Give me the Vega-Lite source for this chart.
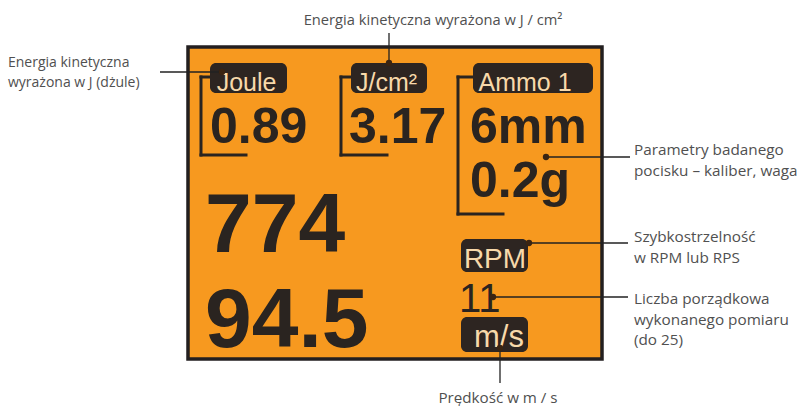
{
  "$schema": "https://vega.github.io/schema/vega-lite/v6.json",
  "width": 801,
  "height": 406,
  "autosize": {"type": "none"},
  "padding": 0,
  "background": "white",
  "config": {"view": {"stroke": null}},
  "datasets": {
    "panel": [{"x": 188, "x2": 602, "y": 47, "y2": 359}],
    "tags": [
      {"name": "Joule", "x": 210, "x2": 287, "y": 63, "y2": 93},
      {"name": "J/cm2", "x": 351, "x2": 427, "y": 63, "y2": 93},
      {"name": "Ammo 1", "x": 473, "x2": 593, "y": 63, "y2": 93},
      {"name": "RPM", "x": 461, "x2": 528, "y": 239, "y2": 272},
      {"name": "m/s", "x": 461, "x2": 528, "y": 317, "y2": 352}
    ],
    "brackets": [
      {"x": 201, "y": 77, "x2": 201, "y2": 155},
      {"x": 201, "y": 77, "x2": 210, "y2": 77},
      {"x": 201, "y": 155, "x2": 246, "y2": 155},
      {"x": 341, "y": 77, "x2": 341, "y2": 155},
      {"x": 341, "y": 77, "x2": 351, "y2": 77},
      {"x": 341, "y": 155, "x2": 387, "y2": 155},
      {"x": 458, "y": 77, "x2": 458, "y2": 214},
      {"x": 458, "y": 77, "x2": 473, "y2": 77},
      {"x": 458, "y": 214, "x2": 503, "y2": 214}
    ],
    "leaders": [
      {"x": 160, "y": 72, "x2": 222, "y2": 72},
      {"x": 389, "y": 33, "x2": 389, "y2": 63},
      {"x": 546, "y": 157, "x2": 630, "y2": 157},
      {"x": 529, "y": 243, "x2": 628, "y2": 243},
      {"x": 493, "y": 297, "x2": 628, "y2": 297},
      {"x": 500, "y": 348, "x2": 500, "y2": 383}
    ],
    "dots": [
      {"x": 222, "y": 72},
      {"x": 389, "y": 63},
      {"x": 546, "y": 157},
      {"x": 529, "y": 243},
      {"x": 493, "y": 297},
      {"x": 500, "y": 348}
    ],
    "tagTextWide": [
      {"x": 246.5, "y": 91, "text": "Joule"},
      {"x": 386.5, "y": 91, "text": "J/cm²"},
      {"x": 525, "y": 91, "text": "Ammo 1"}
    ],
    "tagTextRPM": [
      {"x": 495, "y": 268, "text": "RPM"}
    ],
    "tagTextMS": [
      {"x": 499, "y": 347, "text": "m/s"}
    ],
    "smallValues": [
      {"x": 210, "y": 143, "text": "0.89"},
      {"x": 349, "y": 143, "text": "3.17"},
      {"x": 470, "y": 143, "text": "6mm"},
      {"x": 470, "y": 197, "text": "0.2g"}
    ],
    "bigValues": [
      {"x": 205, "y": 252, "text": "774"},
      {"x": 205, "y": 347, "text": "94.5"}
    ],
    "counter": [{"x": 459, "y": 312, "text": "11"}],
    "notesLeft": [
      {"x": 8, "y": 67, "text": "Energia kinetyczna\nwyrażona w J (dżule)"}
    ],
    "notesRight": [
      {"x": 634, "y": 155, "text": "Parametry badanego\npocisku – kaliber, waga"},
      {"x": 634, "y": 242, "text": "Szybkostrzelność\nw RPM lub RPS"},
      {"x": 634, "y": 304, "text": "Liczba porządkowa\nwykonanego pomiaru\n(do 25)"}
    ],
    "notesTop": [
      {"x": 433, "y": 25, "text": "Energia kinetyczna wyrażona w J / cm²"}
    ],
    "notesBottom": [
      {"x": 498, "y": 403, "text": "Prędkość w m / s"}
    ]
  },
  "encoding": {
    "x": {"field": "x", "type": "quantitative", "scale": {"domain": [0, 801], "nice": false, "zero": false}, "axis": null},
    "y": {"field": "y", "type": "quantitative", "scale": {"domain": [0, 406], "reverse": true, "nice": false, "zero": false}, "axis": null}
  },
  "layer": [
    {
      "data": {"name": "panel"},
      "mark": {"type": "rect", "fill": "#F7991F", "stroke": "#231F20", "strokeWidth": 3.5},
      "encoding": {"x2": {"field": "x2"}, "y2": {"field": "y2"}}
    },
    {
      "data": {"name": "brackets"},
      "mark": {"type": "rule", "color": "#2A2420", "strokeWidth": 3, "strokeCap": "square"},
      "encoding": {"x2": {"field": "x2"}, "y2": {"field": "y2"}}
    },
    {
      "data": {"name": "tags"},
      "mark": {"type": "rect", "fill": "#2D2521", "cornerRadius": 6},
      "encoding": {"x2": {"field": "x2"}, "y2": {"field": "y2"}}
    },
    {
      "data": {"name": "tagTextWide"},
      "mark": {"type": "text", "font": "Liberation Sans", "fontSize": 25, "color": "#F8D9AA", "align": "center", "baseline": "alphabetic"},
      "encoding": {"text": {"field": "text"}}
    },
    {
      "data": {"name": "tagTextRPM"},
      "mark": {"type": "text", "font": "Liberation Sans", "fontSize": 28, "color": "#F8D9AA", "align": "center", "baseline": "alphabetic"},
      "encoding": {"text": {"field": "text"}}
    },
    {
      "data": {"name": "tagTextMS"},
      "mark": {"type": "text", "font": "Liberation Sans", "fontSize": 31, "color": "#F8D9AA", "align": "center", "baseline": "alphabetic"},
      "encoding": {"text": {"field": "text"}}
    },
    {
      "data": {"name": "smallValues"},
      "mark": {"type": "text", "font": "Liberation Sans", "fontSize": 50, "fontWeight": "bold", "color": "#2A2420", "align": "left", "baseline": "alphabetic"},
      "encoding": {"text": {"field": "text"}}
    },
    {
      "data": {"name": "bigValues"},
      "mark": {"type": "text", "font": "Liberation Sans", "fontSize": 84, "fontWeight": "bold", "color": "#2A2420", "align": "left", "baseline": "alphabetic"},
      "encoding": {"text": {"field": "text"}}
    },
    {
      "data": {"name": "counter"},
      "mark": {"type": "text", "font": "Liberation Sans", "fontSize": 40, "color": "#2A2420", "align": "left", "baseline": "alphabetic"},
      "encoding": {"text": {"field": "text"}}
    },
    {
      "data": {"name": "leaders"},
      "mark": {"type": "rule", "color": "#222222", "strokeWidth": 1.3},
      "encoding": {"x2": {"field": "x2"}, "y2": {"field": "y2"}}
    },
    {
      "data": {"name": "dots"},
      "mark": {"type": "circle", "color": "#3A2412", "opacity": 1, "size": 40},
      "encoding": {}
    },
    {
      "data": {"name": "notesLeft"},
      "mark": {"type": "text", "font": "Open Sans", "fontSize": 14, "color": "#505050", "align": "left", "baseline": "alphabetic", "lineBreak": "\n", "lineHeight": 20},
      "encoding": {"text": {"field": "text"}}
    },
    {
      "data": {"name": "notesRight"},
      "mark": {"type": "text", "font": "Open Sans", "fontSize": 15.3, "color": "#505050", "align": "left", "baseline": "alphabetic", "lineBreak": "\n", "lineHeight": 20.5},
      "encoding": {"text": {"field": "text"}}
    },
    {
      "data": {"name": "notesTop"},
      "mark": {"type": "text", "font": "Open Sans", "fontSize": 14.7, "color": "#505050", "align": "center", "baseline": "alphabetic"},
      "encoding": {"text": {"field": "text"}}
    },
    {
      "data": {"name": "notesBottom"},
      "mark": {"type": "text", "font": "Open Sans", "fontSize": 15.2, "color": "#505050", "align": "center", "baseline": "alphabetic"},
      "encoding": {"text": {"field": "text"}}
    }
  ]
}
